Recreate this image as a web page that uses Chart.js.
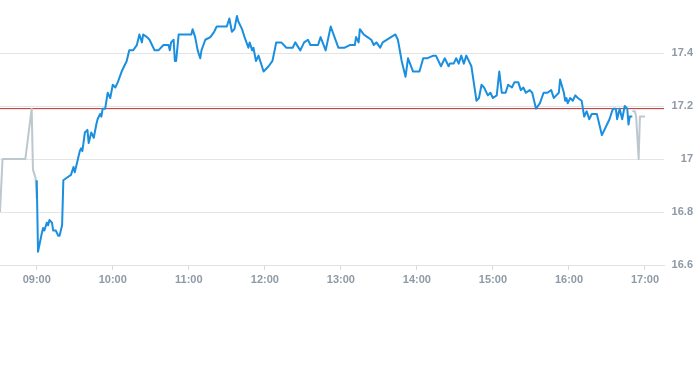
<!DOCTYPE html>
<html>
<head>
<meta charset="utf-8">
<script src="https://cdn.jsdelivr.net/npm/chart.js@4/dist/chart.umd.min.js"></script>
<style>
    html, body { margin: 0; padding: 0; background: #fff; }
    #wrap { width: 693px; height: 365px; position: relative; }
</style>
</head>
<body>
<div id="wrap"><canvas id="chart"></canvas></div>
<script>
// Regular session (blue line)
const sessionTimes = [
    "09:00","09:01","09:04","09:05","09:06","09:08","09:09","09:10","09:12","09:13",
    "09:15","09:17","09:18","09:20","09:21","09:24","09:27","09:29","09:30","09:34",
    "09:35","09:36","09:38","09:40","09:41","09:43","09:45","09:47","09:48","09:50",
    "09:51","09:52","09:54","09:56","09:58","10:00","10:02","10:04","10:07","10:11",
    "10:13","10:16","10:19","10:21","10:23","10:24","10:27","10:29","10:32","10:33",
    "10:36","10:40","10:44","10:45","10:46","10:48","10:49","10:50","10:52","11:02",
    "11:03","11:05","11:07","11:09","11:10","11:13","11:17","11:20","11:22","11:30",
    "11:32","11:34","11:36","11:38","11:39","11:42","11:44","11:47","11:48","11:50",
    "11:51","11:53","11:55","11:59","12:03","12:06","12:09","12:13","12:17","12:22",
    "12:24","12:28","12:31","12:34","12:36","12:42","12:44","12:48","12:52","12:55",
    "12:58","13:03","13:07","13:11","13:12","13:14","13:15","13:18","13:21","13:24",
    "13:26","13:28","13:31","13:33","13:43","13:45","13:48","13:51","13:53","13:57",
    "14:02","14:05","14:08","14:13","14:15","14:19","14:22","14:25","14:26","14:29",
    "14:31","14:33","14:35","14:37","14:39","14:43","14:47","14:49","14:51","14:53",
    "14:56","14:58","15:00","15:03","15:05","15:07","15:10","15:12","15:15","15:17",
    "15:20","15:22","15:24","15:26","15:29","15:31","15:34","15:37","15:40","15:43",
    "15:46","15:48","15:50","15:52","15:53","15:56","15:57","15:58","15:59","16:01",
    "16:03","16:05","16:07","16:10","16:11","16:12","16:14","16:16","16:18","16:22",
    "16:23","16:26","16:30","16:32","16:34","16:35","16:37","16:38","16:40","16:42",
    "16:44","16:46","16:47","16:48","16:50"
];
const sessionPrices = [
    16.92,16.65,16.72,16.74,16.73,16.76,16.75,16.77,16.76,16.73,
    16.73,16.71,16.71,16.75,16.92,16.93,16.94,16.97,16.95,17.03,
    17.04,17.03,17.10,17.11,17.06,17.10,17.08,17.13,17.15,17.17,
    17.16,17.19,17.19,17.25,17.23,17.28,17.27,17.29,17.33,17.37,
    17.41,17.41,17.43,17.47,17.44,17.47,17.46,17.45,17.42,17.41,
    17.41,17.43,17.43,17.41,17.44,17.45,17.37,17.37,17.47,17.47,
    17.49,17.46,17.41,17.38,17.41,17.45,17.46,17.48,17.50,17.50,
    17.53,17.48,17.49,17.54,17.52,17.49,17.46,17.42,17.44,17.41,
    17.42,17.37,17.39,17.33,17.35,17.37,17.44,17.44,17.42,17.42,
    17.44,17.41,17.44,17.45,17.43,17.43,17.46,17.41,17.50,17.46,
    17.42,17.42,17.43,17.43,17.46,17.44,17.49,17.47,17.46,17.45,
    17.43,17.44,17.42,17.44,17.47,17.45,17.37,17.31,17.38,17.33,
    17.33,17.38,17.38,17.39,17.39,17.35,17.38,17.35,17.36,17.36,
    17.38,17.36,17.39,17.36,17.39,17.35,17.22,17.23,17.28,17.27,
    17.24,17.25,17.23,17.24,17.33,17.25,17.25,17.28,17.27,17.29,
    17.29,17.26,17.27,17.25,17.26,17.25,17.19,17.21,17.25,17.25,
    17.26,17.23,17.24,17.25,17.30,17.25,17.22,17.23,17.21,17.23,
    17.22,17.24,17.23,17.22,17.19,17.16,17.18,17.15,17.17,17.17,
    17.15,17.09,17.13,17.15,17.18,17.19,17.19,17.15,17.19,17.15,
    17.20,17.19,17.13,17.16,17.16
];

// Pre-market and after-hours (grey line)
const preTimes = ["08:31","08:33","08:51","08:56","08:57","08:59","09:00"];
const prePrices = [16.80,17.00,17.00,17.19,16.96,16.93,16.85];
const postTimes = ["16:50","16:52","16:53","16:55","16:56","17:00"];
const postPrices = [17.18,17.18,17.16,17.00,17.16,17.16];

// Previous close (red line)
const prevClose = 17.19;

// Axes
const xRange = ["08:31", "17:15"];
const xTickLabels = ["09:00","10:00","11:00","12:00","13:00","14:00","15:00","16:00","17:00"];
const yTicks = [16.6, 16.8, 17, 17.2, 17.4];
const yRange = [16.6, 17.6];

document.addEventListener("DOMContentLoaded", () => {
    const toMin = (t) => {
        const [h, m] = t.split(":").map(Number);
        return h * 60 + m;
    };
    const toPoints = (times, values) => times.map((t, i) => ({ x: toMin(t), y: values[i] }));

    const xMin = toMin(xRange[0]);
    const xMax = toMin(xRange[1]);
    const labelColor = "#8e9aa6";
    const labelFont = "'Liberation Sans', Arial, sans-serif";

    const ctx = document.getElementById("chart").getContext("2d");
    new Chart(ctx, {
        type: "line",
        data: {
            datasets: [
                {
                    label: "Close",
                    data: [{ x: xMin, y: prevClose }, { x: xMax, y: prevClose }],
                    borderColor: "#b92d2a",
                    borderWidth: 1,
                    pointRadius: 0,
                    order: 3,
                },
                {
                    label: "Extended",
                    data: [...toPoints(preTimes, prePrices), { x: null, y: null }, ...toPoints(postTimes, postPrices)],
                    borderColor: "#bcc7ce",
                    borderWidth: 2,
                    pointRadius: 0,
                    spanGaps: false,
                    order: 2,
                },
                {
                    label: "Price",
                    data: toPoints(sessionTimes, sessionPrices),
                    borderColor: "#1b8fdf",
                    borderWidth: 2,
                    pointRadius: 0,
                    order: 1,
                },
            ],
        },
        options: {
            responsive: true,
            maintainAspectRatio: false,
            animation: false,
            layout: { padding: 0 },
            plugins: {
                legend: { display: false },
                tooltip: { enabled: false },
            },
            elements: { line: { tension: 0, borderJoinStyle: "round" } },
            scales: {
                x: {
                    type: "linear",
                    min: xMin,
                    max: xMax,
                    afterBuildTicks: (scale) => {
                        scale.ticks = xTickLabels.map(t => ({ value: toMin(t) }));
                    },
                    afterFit: (scale) => { scale.height = 100; },
                    grid: {
                        drawOnChartArea: false,
                        drawTicks: true,
                        tickLength: 5,
                        color: "#d9d9d9",
                    },
                    border: { display: true, color: "#e2e2e2" },
                    ticks: {
                        color: labelColor,
                        font: { family: labelFont, size: 11, weight: "bold" },
                        padding: 3,
                        maxRotation: 0,
                        autoSkip: false,
                        callback: (value, index) => xTickLabels[index],
                    },
                },
                y: {
                    position: "right",
                    min: yRange[0],
                    max: yRange[1],
                    afterBuildTicks: (scale) => {
                        scale.ticks = yTicks.map(v => ({ value: v }));
                    },
                    afterFit: (scale) => {
                        scale.width = 29;
                        scale.paddingTop = 0;
                        scale.paddingBottom = 0;
                    },
                    grid: {
                        color: "#e4e4e4",
                        drawTicks: false,
                    },
                    border: { display: false },
                    ticks: {
                        color: labelColor,
                        font: { family: labelFont, size: 11, weight: "bold" },
                        crossAlign: "far",
                        padding: 0,
                        callback: (value) => String(value),
                    },
                },
            },
        },
    });
});
</script>
</body>
</html>
